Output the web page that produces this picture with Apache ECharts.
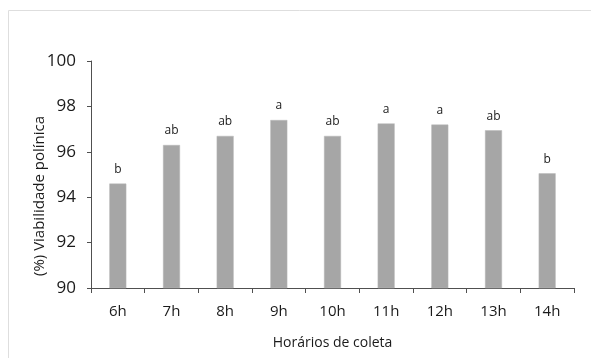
<!DOCTYPE html>
<html>
<head>
<meta charset="utf-8">
<script src="https://cdn.jsdelivr.net/npm/echarts@6/dist/echarts.min.js"></script>
<style>
  html, body { margin: 0; padding: 0; background: #fff; }
  #chart { width: 591px; height: 358px; }
</style>
</head>
<body>
<div id="chart"></div>
<script>
// Pollen viability by collection hour, with letters from the mean comparison test
var categories = ['6h', '7h', '8h', '9h', '10h', '11h', '12h', '13h', '14h'];
var viability = [94.6, 96.3, 96.7, 97.4, 96.7, 97.25, 97.2, 96.95, 95.05];
var letters = ['b', 'ab', 'ab', 'a', 'ab', 'a', 'a', 'ab', 'b'];
var yTicks = [90, 92, 94, 96, 98, 100];

(function() {
    var el = document.getElementById('chart');
    var chart = echarts.init(el, null, { renderer: 'canvas' });
    var font = '"Open Sans", "Liberation Sans", sans-serif';
    var axisColor = '#505050';
    var textColor = '#1a1a1a';

    chart.setOption({
        animation: false,
        grid: { left: 91, right: 17, top: 61, bottom: 70 },
        graphic: [
            // faint frame round the chart
            { type: 'line', shape: { x1: 8.5, y1: 10.5, x2: 591, y2: 10.5 }, style: { stroke: '#dedede', lineWidth: 1 } },
            { type: 'line', shape: { x1: 8.5, y1: 10.5, x2: 8.5, y2: 358 }, style: { stroke: '#dedede', lineWidth: 1 } },
            {
                type: 'text', x: 40, y: 196, rotation: Math.PI / 2,
                style: {
                    text: '(%) Viabilidade polínica', fill: textColor,
                    font: '15px ' + font, align: 'center', verticalAlign: 'middle'
                }
            }
        ],
        xAxis: {
            type: 'category',
            data: categories,
            name: 'Horários de coleta',
            nameLocation: 'middle',
            nameGap: 48,
            nameTextStyle: { color: textColor, fontSize: 14, fontFamily: font },
            axisLine: { lineStyle: { color: axisColor, width: 1 } },
            axisTick: { show: true, length: 5, lineStyle: { color: axisColor } },
            axisLabel: { color: textColor, fontSize: 15, fontFamily: font, margin: 16 }
        },
        yAxis: {
            type: 'value',
            min: yTicks[0],
            max: yTicks[yTicks.length - 1],
            interval: yTicks[1] - yTicks[0],
            axisLine: { show: true, lineStyle: { color: axisColor, width: 1 } },
            axisTick: { show: true, length: 4, lineStyle: { color: axisColor } },
            splitLine: { show: false },
            axisLabel: { color: textColor, fontSize: 17, fontFamily: font, margin: 15 }
        },
        series: [{
            type: 'bar',
            data: viability,
            barWidth: 17,
            itemStyle: { color: '#a6a6a6', borderColor: '#b8b8b8', borderWidth: 0.5 },
            label: {
                show: true,
                position: 'top',
                distance: 8,
                color: textColor,
                fontSize: 12,
                fontFamily: font,
                formatter: function(p) { return letters[p.dataIndex]; }
            }
        }]
    });
})();
</script>
</body>
</html>
